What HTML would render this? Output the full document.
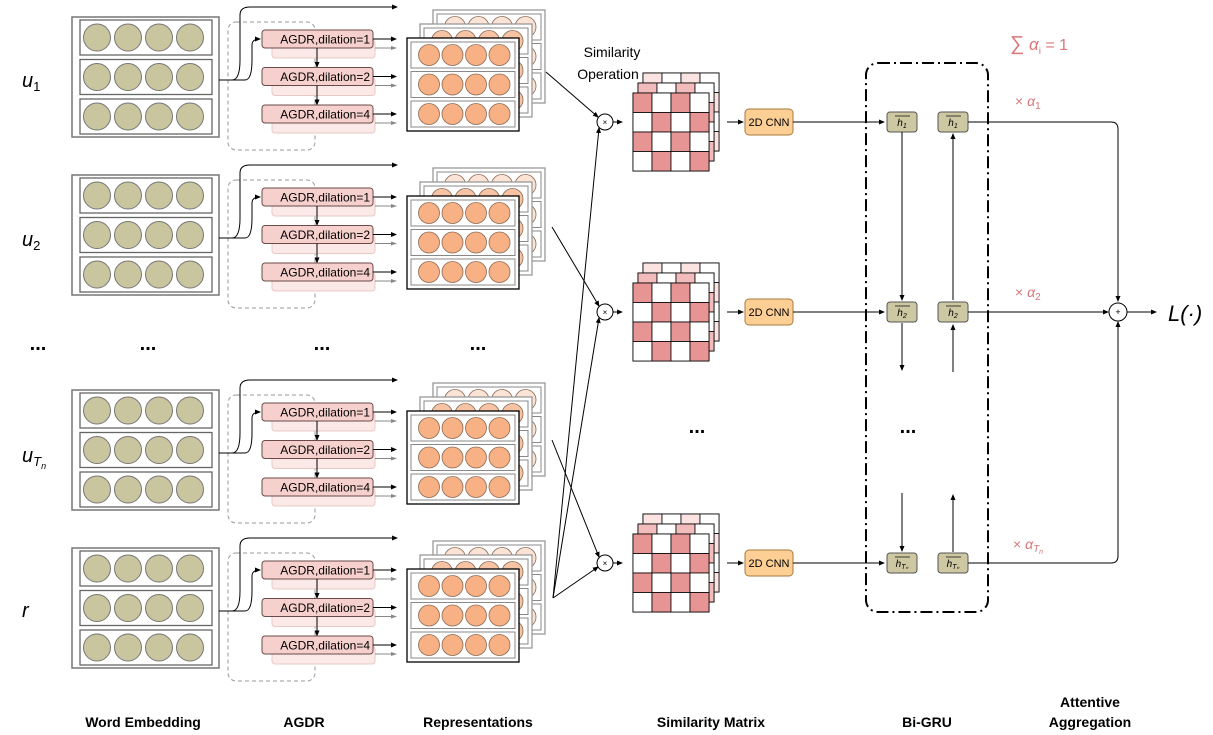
<!DOCTYPE html><html><head><meta charset="utf-8"><style>body{margin:0;background:#fff}svg{display:block}text{font-family:"Liberation Sans",sans-serif}</style></head><body>
<svg id="s" width="1213" height="735" viewBox="0 0 1213 735" xmlns="http://www.w3.org/2000/svg">
<defs><marker id="a" markerWidth="6" markerHeight="6" refX="5" refY="3" orient="auto"><path d="M0,0.5L6,3L0,5.5z" fill="#000"/></marker>
<marker id="g" markerWidth="6" markerHeight="6" refX="5" refY="3" orient="auto"><path d="M0,1L6,3L0,5z" fill="#888"/></marker></defs>
</svg>
<script>
const s=document.getElementById('s');let h='';
const offs=[0,158,373,531];
offs.forEach((o,gi)=>{
 h+=`<rect x="72" y="${17+o}" width="147" height="120" fill="#fff" stroke="#777" stroke-width="1.5"/>`;
 for(let r=0;r<3;r++){const y=20+o+r*39.5;h+=`<rect x="80" y="${y}" width="132" height="35" fill="#fff" stroke="#666" stroke-width="1.3"/>`;
  [97,128,159,190].forEach(cx=>h+=`<circle cx="${cx}" cy="${y+17.5}" r="13.5" fill="#c9c59e" stroke="#777"/>`);}
 h+=`<rect x="228" y="${22+o}" width="87" height="128" rx="8" fill="none" stroke="#999" stroke-dasharray="4,3"/>`;
 h+=`<path d="M219,${80+o} H232 Q240,${80+o} 240,${60+o} V${15+o} Q240,${7+o} 250,${7+o} H397" fill="none" stroke="#000" marker-end="url(#a)"/>`;
 h+=`<path d="M219,${80+o} H245 Q252,${80+o} 252,${60+o} V${45+o} Q252,${39+o} 260,${39+o}" fill="none" stroke="#000" marker-end="url(#a)"/>`;
 ['1','2','4'].forEach((d,i)=>{const y=30+o+i*37.5;
  h+=`<rect x="272" y="${y+10}" width="103" height="18" rx="3" fill="#fbe9e7" stroke="#e8c8c5"/>`;
  h+=`<rect x="262" y="${y}" width="111" height="18" rx="3" fill="#f6d0cc" stroke="#6a4a48"/>`;
  h+=`<text x="370" y="${y+13.5}" font-size="12" text-anchor="end">AGDR,dilation=${d}</text>`;
  h+=`<line x1="373" y1="${y+9}" x2="396" y2="${y+9}" stroke="#000" marker-end="url(#a)"/>`;
  h+=`<line x1="375" y1="${y+18}" x2="396" y2="${y+18}" stroke="#888" marker-end="url(#g)"/>`;
  if(i<2)h+=`<line x1="317" y1="${y+18}" x2="317" y2="${y+37}" stroke="#000" marker-end="url(#a)"/>`;
 });
 [[433,10,0.3],[420,24,0.6],[407,38,1]].forEach(([x,y,op])=>{y+=o;
  h+=`<rect x="${x}" y="${y}" width="112" height="93" fill="#fff" stroke="${op<1?'#999':'#000'}" stroke-width="1.3"/>`;
  for(let r=0;r<3;r++){const yy=y+4+r*29.5;h+=`<rect x="${x+4}" y="${yy}" width="104" height="26" fill="#fff" stroke="#888"/>`;
   for(let c=0;c<4;c++)h+=`<circle cx="${x+22+c*23.5}" cy="${yy+13}" r="10.5" fill="${op<1?(op<0.5?'#fbe3d5':'#f7c3a5'):'#f8b184'}" stroke="#8a6a55" stroke-width="0.8"/>`;}
 });
});
[122,312,563].forEach((cy,mi)=>{
 const y0=cy-29;
 [[643,y0-20,'#fbe3e2'],[638,y0-10,'#f2bcbc'],[633,y0,'#e69594']].forEach(([x,y,f],li)=>{
  h+=`<rect x="${x}" y="${y}" width="76" height="78" fill="#fff" stroke="#000"/>`;
  for(let r=0;r<4;r++)for(let c=0;c<4;c++){const on=(r+c)%2==0;h+=`<rect x="${x+c*19}" y="${y+r*19.5}" width="19" height="19.5" fill="${on?f:'#fff'}" stroke="#000" stroke-width="0.8"/>`;}
 });
 h+=`<circle cx="605" cy="${cy}" r="8" fill="#fff" stroke="#000"/><text x="605" y="${cy+3}" font-size="8" text-anchor="middle">×</text>`;
 h+=`<line x1="613" y1="${cy}" x2="622" y2="${cy}" stroke="#000" marker-end="url(#a)"/>`;
 h+=`<line x1="727" y1="${cy}" x2="743" y2="${cy}" stroke="#000" marker-end="url(#a)"/>`;
 h+=`<rect x="745" y="${cy-13}" width="48" height="26" rx="4" fill="#fdcf95" stroke="#a7793b"/><text x="769" y="${cy+4}" font-size="11" text-anchor="middle">2D CNN</text>`;
 h+=`<line x1="793" y1="${cy}" x2="884" y2="${cy}" stroke="#000" marker-end="url(#a)"/>`;
 const sub=['1','2','T\u2099'][mi];
 h+=`<rect x="887" y="${cy-10}" width="30" height="20" rx="3" fill="#cdc8a2" stroke="#555"/><text x="902" y="${cy+4}" font-size="10" font-style="italic" text-anchor="middle" font-family="Liberation Serif">h<tspan font-size="7" dy="2">${sub}</tspan></text><line x1="895" y1="${cy-6}" x2="910" y2="${cy-6}" stroke="#000" stroke-width="0.7"/>`;
 h+=`<rect x="938" y="${cy-10}" width="30" height="20" rx="3" fill="#cdc8a2" stroke="#555"/><text x="953" y="${cy+4}" font-size="10" font-style="italic" text-anchor="middle" font-family="Liberation Serif">h<tspan font-size="7" dy="2">${sub}</tspan></text><line x1="946" y1="${cy-6}" x2="961" y2="${cy-6}" stroke="#000" stroke-width="0.7"/>`;
});
h+=`<line x1="546" y1="72" x2="598" y2="117" stroke="#000" marker-end="url(#a)"/>`;
h+=`<line x1="552" y1="227" x2="599" y2="306" stroke="#000" marker-end="url(#a)"/>`;
h+=`<line x1="552" y1="440" x2="599" y2="557" stroke="#000" marker-end="url(#a)"/>`;
h+=`<line x1="553" y1="598" x2="599" y2="128" stroke="#000" marker-end="url(#a)"/>`;
h+=`<line x1="553" y1="598" x2="599" y2="318" stroke="#000" marker-end="url(#a)"/>`;
h+=`<line x1="553" y1="598" x2="598" y2="567" stroke="#000" marker-end="url(#a)"/>`;
h+=`<line x1="902" y1="132" x2="902" y2="300" stroke="#000" marker-end="url(#a)"/><line x1="953" y1="300" x2="953" y2="134" stroke="#000" marker-end="url(#a)"/>`;
h+=`<line x1="902" y1="323" x2="902" y2="370" stroke="#000" marker-end="url(#a)"/><line x1="953" y1="372" x2="953" y2="325" stroke="#000" marker-end="url(#a)"/>`;
h+=`<line x1="902" y1="493" x2="902" y2="551" stroke="#000" marker-end="url(#a)"/><line x1="953" y1="552" x2="953" y2="495" stroke="#000" marker-end="url(#a)"/>`;
h+=`<rect x="866" y="63" width="122" height="549" rx="12" fill="none" stroke="#000" stroke-width="2" stroke-dasharray="12,4,2,4"/>`;
h+=`<path d="M968,122 H1111 Q1118,122 1118,129 V301" fill="none" stroke="#000" marker-end="url(#a)"/>`;
h+=`<line x1="968" y1="312" x2="1108" y2="312" stroke="#000" marker-end="url(#a)"/>`;
h+=`<path d="M968,563 H1111 Q1118,563 1118,556 V322" fill="none" stroke="#000" marker-end="url(#a)"/>`;
h+=`<circle cx="1118" cy="312" r="9" fill="#fff" stroke="#000"/><text x="1118" y="315" font-size="9" text-anchor="middle">+</text>`;
h+=`<line x1="1127" y1="312" x2="1156" y2="312" stroke="#000" marker-end="url(#a)"/>`;
h+=`<text x="1168" y="321" font-size="22" font-family="Liberation Serif" font-style="italic">L(·)</text>`;
const red='#d9777a';
h+=`<text x="1010" y="50" font-size="20" fill="${red}" font-family="Liberation Serif">∑<tspan font-style="italic" font-size="17"> α</tspan><tspan font-size="10" dy="4">i</tspan><tspan font-size="16" dy="-4"> = 1</tspan></text>`;
h+=`<text x="1015" y="106" font-size="14" fill="${red}" font-family="Liberation Serif">× <tspan font-style="italic">α</tspan><tspan font-size="10" dy="3">1</tspan></text>`;
h+=`<text x="1015" y="297" font-size="14" fill="${red}" font-family="Liberation Serif">× <tspan font-style="italic">α</tspan><tspan font-size="10" dy="3">2</tspan></text>`;
h+=`<text x="1013" y="549" font-size="14" fill="${red}" font-family="Liberation Serif">× <tspan font-style="italic">α</tspan><tspan font-size="10" dy="3" font-style="italic">T</tspan><tspan font-size="7" dy="2" font-style="italic">n</tspan></text>`;
const ser='font-family="Liberation Serif" font-style="italic" font-size="20"';
h+=`<text x="22" y="87" ${ser}>u<tspan font-size="13" dy="4" font-style="normal">1</tspan></text>`;
h+=`<text x="22" y="246" ${ser}>u<tspan font-size="13" dy="4" font-style="normal">2</tspan></text>`;
h+=`<text x="22" y="462" ${ser}>u<tspan font-size="13" dy="4">T</tspan><tspan font-size="9" dy="3">n</tspan></text>`;
h+=`<text x="22" y="617" ${ser}>r</text>`;
[[38,350],[148,350],[322,350],[478,350],[697,433],[908,433]].forEach(([x,y])=>h+=`<text x="${x}" y="${y}" font-size="20" font-weight="bold" text-anchor="middle">...</text>`);
h+=`<text x="612" y="57" font-size="14" text-anchor="middle">Similarity</text><text x="608" y="79" font-size="14" text-anchor="middle">Operation</text>`;
const B='font-size="14" font-weight="bold" text-anchor="middle"';
h+=`<text x="143" y="727" ${B}>Word Embedding</text><text x="304" y="727" ${B}>AGDR</text><text x="478" y="727" ${B}>Representations</text><text x="711" y="727" ${B}>Similarity Matrix</text><text x="927" y="727" ${B}>Bi-GRU</text><text x="1090" y="707" ${B}>Attentive</text><text x="1090" y="727" ${B}>Aggregation</text>`;
s.insertAdjacentHTML('beforeend',h);
</script></body></html>
